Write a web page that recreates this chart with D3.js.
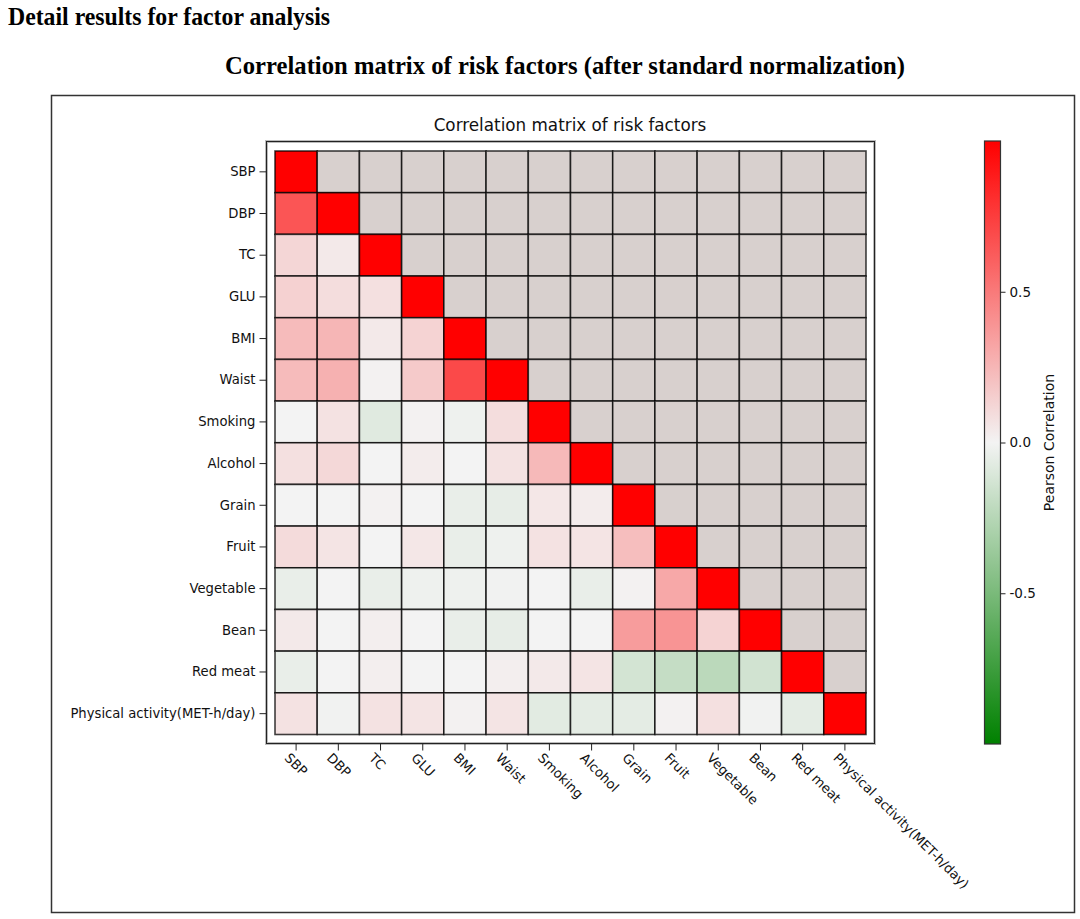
<!DOCTYPE html>
<html>
<head>
<meta charset="utf-8">
<script src="https://cdn.jsdelivr.net/npm/d3@7"></script>
<style>
  body { margin: 0; background: #fff; }
  svg { display: block; }
</style>
</head>
<body>
<div class="canvas"></div>
<script>
const factors = ["SBP", "DBP", "TC", "GLU", "BMI", "Waist", "Smoking", "Alcohol",
  "Grain", "Fruit", "Vegetable", "Bean", "Red meat", "Physical activity(MET-h/day)"];

// lower triangle of the correlation matrix, row by row (diagonal included)
const corrRows = [
  [1],
  [0.65, 1],
  [0.12, 0.04, 1],
  [0.14, 0.09, 0.08, 1],
  [0.23, 0.25, 0.04, 0.13, 1],
  [0.23, 0.27, 0.01, 0.17, 0.70, 1],
  [0.0, 0.07, -0.08, 0.01, -0.02, 0.09, 1],
  [0.08, 0.11, 0.0, 0.03, 0.0, 0.07, 0.24, 1],
  [0.0, 0.0, 0.01, 0.0, -0.04, -0.05, 0.05, 0.03, 1],
  [0.10, 0.06, 0.0, 0.05, -0.04, -0.02, 0.07, 0.06, 0.22, 1],
  [-0.04, 0.0, -0.04, -0.02, -0.02, -0.01, 0.0, -0.04, 0.01, 0.31, 1],
  [0.04, 0.0, 0.02, 0.0, -0.04, -0.05, 0.0, 0.0, 0.36, 0.39, 0.13, 1],
  [-0.04, 0.0, 0.02, 0.0, 0.0, 0.02, 0.04, 0.06, -0.13, -0.19, -0.23, -0.14, 1],
  [0.07, -0.01, 0.07, 0.06, 0.01, 0.06, -0.07, -0.06, -0.06, 0.01, 0.08, -0.01, -0.06, 1]
];

const colorbarTicks = [0.5, 0.0, -0.5];

const svgWidth = 1080;
const svgHeight = 919;

const svg = d3.select(".canvas")
  .append("svg")
  .attr("width", svgWidth)
  .attr("height", svgHeight);

// page headings
svg.append("text")
  .attr("x", 8).attr("y", 25)
  .attr("font-family", "Liberation Serif, Times New Roman, serif")
  .attr("font-weight", "bold")
  .attr("font-size", 25)
  .attr("textLength", 322)
  .attr("lengthAdjust", "spacingAndGlyphs")
  .attr("fill", "#000")
  .text("Detail results for factor analysis");

svg.append("text")
  .attr("x", 565).attr("y", 74)
  .attr("text-anchor", "middle")
  .attr("font-family", "Liberation Serif, Times New Roman, serif")
  .attr("font-weight", "bold")
  .attr("font-size", 26)
  .attr("textLength", 680)
  .attr("lengthAdjust", "spacingAndGlyphs")
  .attr("fill", "#000")
  .text("Correlation matrix of risk factors (after standard normalization)");

// outer figure frame
svg.append("rect")
  .attr("x", 51.5).attr("y", 95.5)
  .attr("width", 1023).attr("height", 817)
  .attr("fill", "none")
  .attr("stroke", "#333")
  .attr("stroke-width", 1.5);

const font = "DejaVu Sans, Verdana, sans-serif";

// heatmap area
const hm = { x0: 275, x1: 866, y0: 151, y1: 734.5 };

const x = d3.scaleBand().domain(factors).range([hm.x0, hm.x1]);
const y = d3.scaleBand().domain(factors).range([hm.y0, hm.y1]);

const color = d3.scaleLinear()
  .domain([-1, 0, 1])
  .range(["#008000", "#f3f3f3", "#ff0000"])
  .clamp(true);

const cells = [];
factors.forEach((rowName, i) => {
  factors.forEach((colName, j) => {
    cells.push({ row: rowName, col: colName, value: j <= i ? corrRows[i][j] : null });
  });
});

// axes frame
svg.append("rect")
  .attr("x", 266.5).attr("y", 141.5)
  .attr("width", 608).attr("height", 602)
  .attr("fill", "none")
  .attr("stroke", "#bbb")
  .attr("stroke-width", 3);
svg.append("rect")
  .attr("x", 266.5).attr("y", 141.5)
  .attr("width", 608).attr("height", 602)
  .attr("fill", "none")
  .attr("stroke", "#222")
  .attr("stroke-width", 1);

svg.append("text")
  .attr("x", 570).attr("y", 131)
  .attr("text-anchor", "middle")
  .attr("font-family", font)
  .attr("font-size", 16.8)
  .attr("fill", "#111")
  .text("Correlation matrix of risk factors");

svg.append("g")
  .selectAll("rect")
  .data(cells)
  .join("rect")
  .attr("x", d => x(d.col))
  .attr("y", d => y(d.row))
  .attr("width", x.bandwidth())
  .attr("height", y.bandwidth())
  .attr("fill", d => d.value === null ? "#d8d0ce" : color(d.value))
  .attr("stroke", "#000")
  .attr("stroke-opacity", 0.75)
  .attr("stroke-width", 1.6);

// y axis
const yAxisGroup = svg.append("g")
  .attr("transform", "translate(266.5, 0)")
  .call(d3.axisLeft(y).tickSize(7).tickPadding(4));
yAxisGroup.select(".domain").remove();
yAxisGroup.selectAll("line").attr("stroke", "#222");
yAxisGroup.selectAll("text")
  .attr("font-family", font)
  .attr("font-size", 13.2)
  .attr("fill", "#111");

// x axis
const xAxisGroup = svg.append("g")
  .attr("transform", "translate(0, 743.5)")
  .call(d3.axisBottom(x).tickSize(7).tickPadding(6));
xAxisGroup.select(".domain").remove();
xAxisGroup.selectAll("line").attr("stroke", "#222");
xAxisGroup.selectAll("text")
  .attr("font-family", font)
  .attr("font-size", 13.2)
  .attr("fill", "#111")
  .attr("text-anchor", "start")
  .attr("dy", "0.35em")
  .attr("transform", "translate(-9, 12) rotate(45)")
  .attr("y", 0);

// colorbar
const cb = { x: 984.5, w: 16, y0: 141, y1: 744 };
const cbScale = d3.scaleLinear().domain([-1, 1]).range([cb.y1, cb.y0]);

const defs = svg.append("defs");
const grad = defs.append("linearGradient")
  .attr("id", "cbGrad")
  .attr("x1", 0).attr("x2", 0).attr("y1", 1).attr("y2", 0);
grad.selectAll("stop")
  .data(d3.range(0, 1.0001, 0.05))
  .join("stop")
  .attr("offset", d => d)
  .attr("stop-color", d => color(d * 2 - 1));

svg.append("rect")
  .attr("x", cb.x).attr("y", cb.y0)
  .attr("width", cb.w).attr("height", cb.y1 - cb.y0)
  .attr("fill", "url(#cbGrad)")
  .attr("stroke", "#333")
  .attr("stroke-width", 1.2);

const cbAxis = svg.append("g")
  .attr("transform", `translate(${cb.x + cb.w}, 0)`)
  .call(d3.axisRight(cbScale).tickValues(colorbarTicks).tickFormat(d => d.toFixed(1)).tickSize(5).tickPadding(4));
cbAxis.select(".domain").remove();
cbAxis.selectAll("line").attr("stroke", "#222");
cbAxis.selectAll("text")
  .attr("font-family", font)
  .attr("font-size", 13.5)
  .attr("fill", "#111");

svg.append("text")
  .attr("transform", `translate(1054, ${cbScale(0)}) rotate(-90)`)
  .attr("text-anchor", "middle")
  .attr("font-family", font)
  .attr("font-size", 14)
  .attr("fill", "#111")
  .text("Pearson Correlation");
</script>
</body>
</html>
